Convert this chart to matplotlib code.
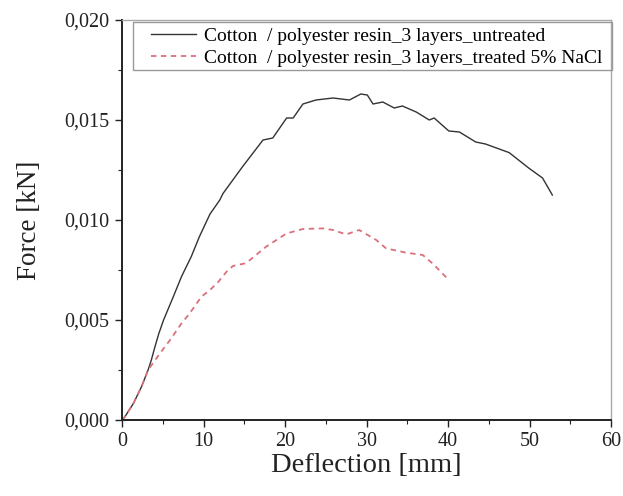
import matplotlib
matplotlib.use('Agg')
import matplotlib.pyplot as plt
from matplotlib.patches import Rectangle
from matplotlib.ticker import MultipleLocator, FuncFormatter

# Datos
defl_untreated = [0.0, 0.37, 1.4, 2.4, 3.2, 3.6, 4.0, 4.5, 5.1, 6.3, 7.3, 8.5,
                  9.5, 10.8, 12.0, 12.4, 14.8, 17.3, 18.5, 20.2, 21.0, 22.2,
                  23.8, 25.9, 27.9, 29.3, 30.1, 30.8, 32.0, 33.4, 34.4, 36.1,
                  37.7, 38.3, 40.1, 41.4, 43.4, 44.6, 47.5, 49.9, 51.6, 52.8]
force_untreated = [0.0, 0.00017, 0.00083, 0.00167, 0.0025, 0.0030, 0.0036,
                   0.0043, 0.005, 0.00617, 0.00717, 0.00817, 0.00917, 0.0103,
                   0.011, 0.01133, 0.01267, 0.0140, 0.0141, 0.0151, 0.0151,
                   0.0158, 0.0160, 0.0161, 0.0160, 0.0163, 0.01625, 0.0158,
                   0.0159, 0.0156, 0.0157, 0.0154, 0.0150, 0.0151, 0.01445,
                   0.0144, 0.0139, 0.0138, 0.01337, 0.0126, 0.0121, 0.01125]

defl_treated = [0.0, 0.37, 1.4, 2.4, 3.2, 4.65, 5.9, 7.3, 8.3, 9.75, 10.8,
                11.8, 12.8, 13.6, 15.1, 15.7, 17.7, 20.2, 22.2, 24.6, 25.9,
                27.5, 29.1, 31.2, 32.4, 34.8, 36.9, 38.1, 40.1]
force_treated = [0.0, 0.00017, 0.00083, 0.00167, 0.0025, 0.00333, 0.004,
                 0.00483, 0.00533, 0.00617, 0.0065, 0.0069, 0.0074, 0.0077,
                 0.00783, 0.0080, 0.00867, 0.00933, 0.00955, 0.00958, 0.0095,
                 0.00928, 0.0095, 0.0090, 0.00858, 0.00837, 0.00825, 0.00783,
                 0.0070]

label_untreated = 'Cotton  / polyester resin_3 layers_untreated'
label_treated = 'Cotton  / polyester resin_3 layers_treated 5% NaCl'

plt.rcParams['font.family'] = ['Liberation Serif', 'DejaVu Serif']

W, H = 623, 496
fig = plt.figure(figsize=(W / 100, H / 100), dpi=100)
ax = fig.add_axes([122 / W, 76 / H, 489 / W, 400 / H])

ax.plot(defl_untreated, force_untreated, color='#333333', lw=1.0,
        label=label_untreated)
ax.plot(defl_treated, force_treated, color='#dc6f7c', lw=1.3,
        ls=(0, (3, 2.5)), label=label_treated)

ax.set_xlim(0, 60)
ax.set_ylim(0, 0.020)
ax.xaxis.set_major_locator(MultipleLocator(10))
ax.xaxis.set_minor_locator(MultipleLocator(5))
ax.yaxis.set_major_locator(MultipleLocator(0.005))
ax.yaxis.set_minor_locator(MultipleLocator(0.0025))
ax.yaxis.set_major_formatter(FuncFormatter(lambda v, p: f'{v:.3f}'.replace('.', ',')))

ax.tick_params(which='major', direction='out', length=5, width=1.0,
               labelsize=14.5, colors='#222222', pad=4)
ax.tick_params(which='minor', direction='out', length=3, width=0.8,
               colors='#222222')

for s in ['left', 'bottom']:
    ax.spines[s].set_linewidth(1.4)
    ax.spines[s].set_color('#222222')
for s in ['top', 'right']:
    ax.spines[s].set_linewidth(1.0)
    ax.spines[s].set_color('#aaaaaa')

ax.set_xlabel('Deflection [mm]', fontsize=20.5, color='#222222', labelpad=1)
ax.set_ylabel('Force [kN]', fontsize=19.5, color='#222222', labelpad=16)

# leyenda sin marco; el marco se dibuja aparte como en el original
leg = ax.legend(loc='upper left', bbox_to_anchor=(152 / W - 0.004, 1 - 25 / H),
                bbox_transform=fig.transFigure, fontsize=14, handlelength=2.3,
                handletextpad=0.4, borderpad=0.1, labelspacing=0.25,
                frameon=False, borderaxespad=0)
fig.patches.append(Rectangle((133 / W, 1 - 70 / H), 479 / W, 48 / H,
                             transform=fig.transFigure, fill=False,
                             edgecolor='#999999', lw=1.0))

fig.savefig('out.png', dpi=100)
